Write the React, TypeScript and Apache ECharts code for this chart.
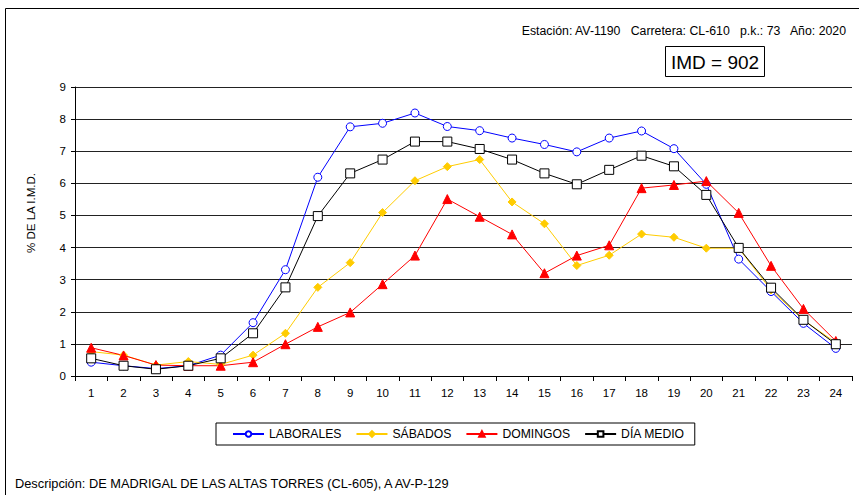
import React, { useEffect, useRef } from "react";
import * as echarts from "echarts";

const hours = ["1","2","3","4","5","6","7","8","9","10","11","12","13","14","15","16","17","18","19","20","21","22","23","24"];
const laborales = [0.43,0.32,0.23,0.32,0.65,1.66,3.31,6.19,7.76,7.87,8.19,7.77,7.64,7.41,7.21,6.98,7.41,7.63,7.08,5.97,3.64,2.63,1.64,0.86];
const sabados = [0.76,0.65,0.34,0.45,0.36,0.65,1.33,2.76,3.53,5.09,6.08,6.52,6.74,5.42,4.74,3.44,3.76,4.42,4.32,3.98,3.98,2.68,1.74,1.04];
const domingos = [0.88,0.64,0.34,0.32,0.32,0.43,0.99,1.53,1.98,2.86,3.75,5.51,4.96,4.41,3.2,3.75,4.07,5.85,5.95,6.07,5.08,3.43,2.09,1.09];
const diaMedio = [0.55,0.32,0.21,0.32,0.55,1.33,2.76,4.98,6.31,6.74,7.3,7.3,7.07,6.74,6.31,5.97,6.42,6.86,6.53,5.64,3.99,2.75,1.75,0.99];
const seriesNames = ["LABORALES","SÁBADOS","DOMINGOS","DÍA MEDIO"];
const headerText = "Estación: AV-1190   Carretera: CL-610   p.k.: 73   Año: 2020";
const imdText = "IMD = 902";
const descText = "Descripción: DE MADRIGAL DE LAS ALTAS TORRES (CL-605), A AV-P-129";
const yName = "% DE LA I.M.D.";

const FONT = "'Liberation Sans', Arial, sans-serif";

export default function App() {
  const ref = useRef<HTMLDivElement>(null);
  useEffect(() => {
    if (!ref.current) return;
    const chart = echarts.init(ref.current, null, { renderer: "svg" });
    const mk = (name: string, data: number[], color: string, symbol: string, size: number, fill: string) => ({
      name,
      type: "line",
      data,
      symbol,
      symbolSize: size,
      showAllSymbol: true,
      lineStyle: { color, width: 1 },
      itemStyle: { color: fill, borderColor: color, borderWidth: 1 },
      emphasis: { disabled: true },
    });
    chart.setOption({
      animation: false,
      backgroundColor: "#fff",
      textStyle: { fontFamily: FONT },
      grid: { left: 75, right: 7, top: 87, bottom: 119, containLabel: false },
      xAxis: {
        type: "category",
        data: hours,
        boundaryGap: true,
        axisLine: { lineStyle: { color: "#000", width: 1 } },
        axisTick: { show: true, length: 5, lineStyle: { color: "#000" } },
        axisLabel: { color: "#000", fontSize: 11.5, fontFamily: FONT, margin: 11 },
      },
      yAxis: {
        type: "value",
        min: 0,
        max: 9,
        interval: 1,
        axisLine: { show: true, lineStyle: { color: "#000", width: 1 } },
        axisTick: { show: true, length: 4, lineStyle: { color: "#000" } },
        axisLabel: { color: "#000", fontSize: 11.5, fontFamily: FONT, margin: 9 },
        splitLine: { show: true, lineStyle: { color: "#222", width: 1 } },
      },
      legend: {
        data: seriesNames,
        left: 216,
        top: 423,
        padding: [5, 10, 5, 16],
        itemGap: 14,
        itemWidth: 31,
        itemHeight: 7,
        borderColor: "#000",
        borderWidth: 1,
        textStyle: { color: "#000", fontSize: 12.2, fontFamily: FONT },
      },
      graphic: [
        { type: "rect", shape: { x: 5.5, y: 8.5, width: 1000, height: 1000 }, style: { fill: "none", stroke: "#000", lineWidth: 1 }, silent: true },
        { type: "text", x: 846, y: 31, style: { text: headerText, fill: "#000", font: `12.3px ${FONT}`, align: "right", verticalAlign: "middle" } },
        { type: "rect", shape: { x: 665.5, y: 46.5, width: 99, height: 30 }, style: { fill: "#fff", stroke: "#000", lineWidth: 1 } },
        { type: "text", x: 715, y: 62, style: { text: imdText, fill: "#000", font: `19px ${FONT}`, align: "center", verticalAlign: "middle" } },
        { type: "text", x: 31, y: 213, rotation: Math.PI / 2, style: { text: yName, fill: "#000", font: `11.5px ${FONT}`, align: "center", verticalAlign: "middle" } },
        { type: "text", x: 15, y: 483, style: { text: descText, fill: "#000", font: `12.8px ${FONT}`, align: "left", verticalAlign: "middle" } },
      ],
      series: [
        mk(seriesNames[0], laborales, "#0000FF", "circle", 8, "#fff"),
        mk(seriesNames[1], sabados, "#FFCC00", "diamond", 8, "#FFCC00"),
        mk(seriesNames[2], domingos, "#FF0000", "triangle", 9, "#FF0000"),
        mk(seriesNames[3], diaMedio, "#000000", "rect", 9, "#fff"),
      ],
    });
    return () => chart.dispose();
  }, []);
  return <div ref={ref} style={{ width: 859, height: 495, position: "absolute", left: 0, top: 0 }} />;
}
